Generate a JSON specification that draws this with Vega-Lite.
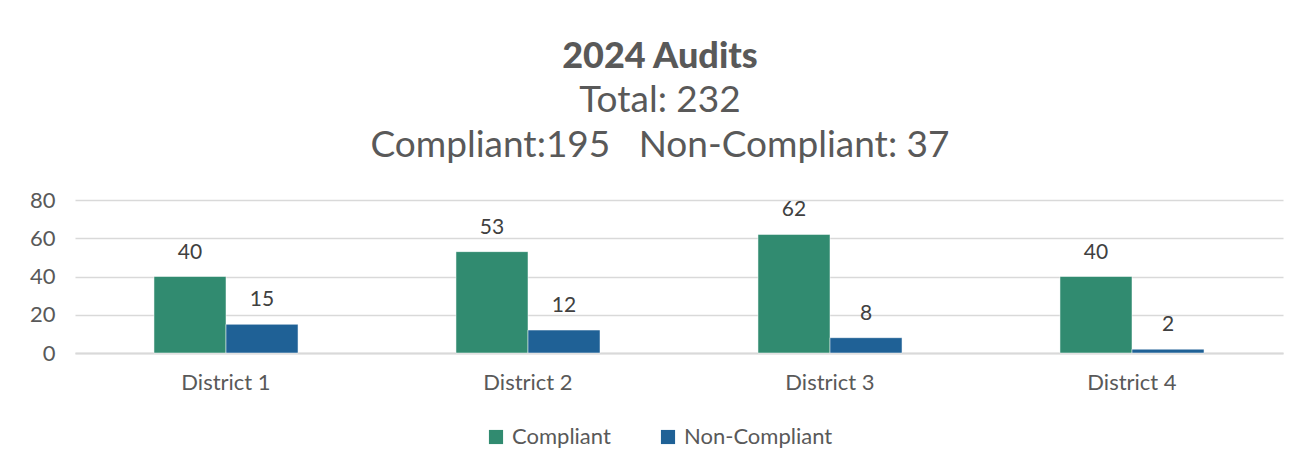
{
  "$schema": "https://vega.github.io/schema/vega-lite/v6.json",
  "autosize": {"type": "none"},
  "width": 1208,
  "height": 153,
  "padding": {"left": 75, "top": 200, "right": 26, "bottom": 115},
  "background": "white",
  "data": {
    "values": [
      {"district": "District 1", "status": "Compliant", "count": 40},
      {"district": "District 1", "status": "Non-Compliant", "count": 15},
      {"district": "District 2", "status": "Compliant", "count": 53},
      {"district": "District 2", "status": "Non-Compliant", "count": 12},
      {"district": "District 3", "status": "Compliant", "count": 62},
      {"district": "District 3", "status": "Non-Compliant", "count": 8},
      {"district": "District 4", "status": "Compliant", "count": 40},
      {"district": "District 4", "status": "Non-Compliant", "count": 2}
    ]
  },
  "title": {
    "text": "2024 Audits",
    "subtitle": ["Total: 232", "Compliant:195\u00a0\u00a0\u00a0Non-Compliant: 37"],
    "anchor": "middle",
    "frame": "group",
    "dx": -19,
    "font": "Lato",
    "fontSize": 36,
    "fontWeight": 900,
    "color": "#595959",
    "subtitleFont": "Lato",
    "subtitleFontSize": 37,
    "subtitleColor": "#595959",
    "subtitleLineHeight": 45,
    "subtitlePadding": 7,
    "offset": 24
  },
  "encoding": {
    "x": {
      "field": "district",
      "type": "nominal",
      "scale": {"paddingInner": 0.523, "paddingOuter": 0.2615},
      "axis": {
        "title": null,
        "labelAngle": 0,
        "labelFont": "Lato",
        "labelFontSize": 22,
        "labelColor": "#595959",
        "labelPadding": 19,
        "ticks": false,
        "domain": true,
        "domainColor": "#d9d9d9",
        "domainWidth": 2
      }
    },
    "xOffset": {"field": "status", "type": "nominal", "scale": {"paddingInner": 0, "paddingOuter": 0}},
    "y": {
      "field": "count",
      "type": "quantitative",
      "scale": {"domain": [0, 80]},
      "axis": {
        "title": null,
        "values": [0, 20, 40, 60, 80],
        "labelFont": "Lato",
        "labelFontSize": 22,
        "labelColor": "#595959",
        "labelPadding": 20,
        "ticks": false,
        "domain": false,
        "grid": true,
        "gridColor": "#d9d9d9",
        "gridWidth": 1.5
      }
    },
    "color": {
      "field": "status",
      "type": "nominal",
      "scale": {"domain": ["Compliant", "Non-Compliant"], "range": ["#318b70", "#1f6196"]},
      "legend": {
        "title": null,
        "orient": "none",
        "legendX": 410,
        "legendY": 226,
        "direction": "horizontal",
        "symbolType": "square",
        "symbolSize": 200,
        "symbolStrokeWidth": 0,
        "labelFont": "Lato",
        "labelFontSize": 22,
        "labelColor": "#595959",
        "labelOffset": 5,
        "columnPadding": 46
      }
    }
  },
  "layer": [
    {"mark": {"type": "bar", "stroke": "white", "strokeWidth": 0.5}},
    {
      "mark": {"type": "text", "dy": -24, "font": "Lato", "fontSize": 21, "baseline": "middle"},
      "encoding": {"text": {"field": "count", "type": "quantitative"}, "color": {"value": "#404040"}}
    }
  ],
  "config": {"view": {"stroke": null}}
}
